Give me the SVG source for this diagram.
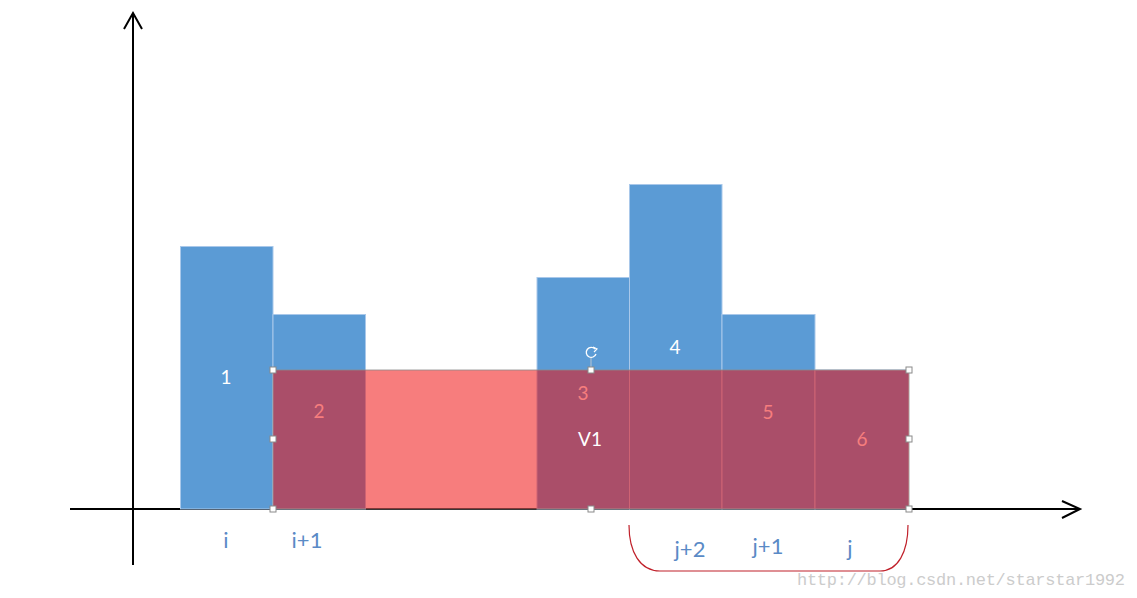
<svg xmlns="http://www.w3.org/2000/svg" width="1137" height="598" viewBox="0 0 1137 598">
<style>
.bar{fill:#5B9BD5;stroke:#A9C8EA;stroke-width:1}
.lbl{font-family:Lato,"Open Sans",sans-serif;font-size:19px;fill:#ffffff;text-anchor:middle}
.idx{font-family:Lato,"Open Sans",sans-serif;font-size:22px;fill:#5A8AC6;text-anchor:middle}
.axis{stroke:#000;stroke-width:2;fill:none}
.h{fill:#fff;stroke:#8a8a8a;stroke-width:1}
</style>
<rect width="1137" height="598" fill="#fff"/>
<g id="axes">
<path class="axis" d="M70,509 H1080 M1062,501 L1080,509 L1062,518"/>
<path class="axis" d="M133,565 V13 M124,29 L133,13 L142,29"/>
</g>
<g id="bar1"><rect class="bar" x="180.5" y="246.5" width="92.5" height="262.5"/><text class="lbl" x="226" y="384">1</text></g>
<g id="bar2"><rect class="bar" x="273" y="314.5" width="92.5" height="194.5"/><text class="lbl" x="319" y="418">2</text></g>
<g id="bar3"><rect class="bar" x="537" y="277.5" width="92.5" height="231.5"/><text class="lbl" x="583" y="400">3</text></g>
<g id="bar4"><rect class="bar" x="629.5" y="184.5" width="92.5" height="324.5"/><text class="lbl" x="675" y="354">4</text></g>
<g id="bar5"><rect class="bar" x="722" y="314.5" width="93" height="194.5"/><text class="lbl" x="768" y="419">5</text></g>
<g id="bar6"><rect class="bar" x="815" y="370" width="93.5" height="139"/><text class="lbl" x="862" y="446">6</text></g>
<g id="overlay">
<rect x="273" y="370" width="636" height="139" fill="#F00A0A" fill-opacity="0.53" stroke="#8a8a8a" stroke-width="0.8"/>
<text class="lbl" x="590" y="446">V1</text>
<line x1="591" y1="358" x2="591" y2="370" stroke="#d0d0d0" stroke-width="0.8"/>
<path d="M595,349 A5,5 0 1 0 596,354" fill="none" stroke="#fff" stroke-width="1.3"/>
<path d="M593,347 L597,349 L594,352" fill="none" stroke="#fff" stroke-width="1.2"/>
<rect class="h" x="270" y="367" width="6" height="6"/>
<rect class="h" x="588" y="367" width="6" height="6"/>
<rect class="h" x="906" y="367" width="6" height="6"/>
<rect class="h" x="270" y="436" width="6" height="6"/>
<rect class="h" x="906" y="436" width="6" height="6"/>
<rect class="h" x="270" y="506" width="6" height="6"/>
<rect class="h" x="588" y="506" width="6" height="6"/>
<rect class="h" x="906" y="506" width="6" height="6"/>
</g>
<g id="indices">
<text class="idx" x="226" y="548">i</text>
<text class="idx" x="307" y="548">i+1</text>
<text class="idx" x="690" y="557">j+2</text>
<text class="idx" x="768" y="554">j+1</text>
<text class="idx" x="850" y="556">j</text>
</g>
<g id="bracket">
<path d="M629,525 C629,552 640,571 660,571 L880,571 C898,571 908,552 908,525" fill="none" stroke="#C0202A" stroke-width="1.2"/>
</g>
<text x="797" y="585" textLength="328" font-family="'Liberation Mono',monospace" font-size="17" fill="#cccccc">http://blog.csdn.net/starstar1992</text>
</svg>
